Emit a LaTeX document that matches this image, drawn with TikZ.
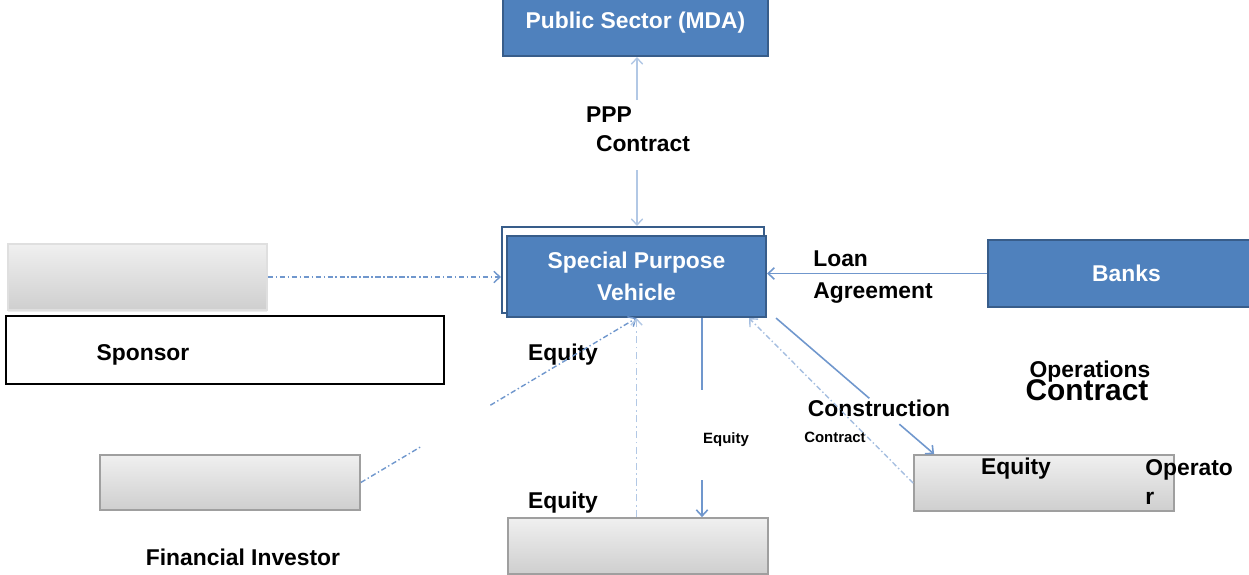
\documentclass[tikz,border=0pt]{standalone}
\usepackage{fontspec}
\setmainfont{Liberation Sans}
\usetikzlibrary{arrows.meta}
\usetikzlibrary{positioning}
\usetikzlibrary{calc}
\usetikzlibrary{shadows}
\definecolor{boxblue}{RGB}{79,129,189}
\definecolor{edgeblue}{RGB}{56,93,138}
\definecolor{linkblue}{RGB}{112,151,205}
\definecolor{paleblue}{RGB}{178,200,229}

\begin{document}
\begin{tikzpicture}[x=0.02cm,y=-0.02cm,>={Straight Barb[length=3.5pt,width=6.5pt]},
  every node/.style={font=\fontsize{13}{16}\selectfont\bfseries},
  bluebox/.style={draw=edgeblue,line width=1.2pt,fill=boxblue,text=white,minimum width=5.18cm,minimum height=1.62cm,inner sep=0pt,align=center},
  greybox/.style={draw=gray!75,line width=1pt,top color=gray!12,bottom color=gray!38,minimum width=5.2cm,minimum height=1.12cm,inner sep=0pt},
  lbl/.style={inner sep=0pt,align=left},
  small/.style={font=\fontsize{8.5}{10}\selectfont\bfseries,inner sep=0pt},
  solidlink/.style={draw=linkblue,line width=0.9pt},
  dotlink/.style={draw=linkblue,line width=0.8pt,dash pattern=on 3pt off 1.5pt on 0.8pt off 1.5pt},
  palelink/.style={draw=paleblue,line width=0.8pt}]
  \useasboundingbox (0,0) rectangle (1249,575);

  % boxes
  \node (pub) at (635.5,23) [bluebox,minimum width=5.3cm,minimum height=1.32cm]{Public Sector (MDA)};
  \node (spvframe) at (633,270) [draw=edgeblue,line width=1.2pt,minimum width=5.24cm,minimum height=1.72cm]{};
  \node (spv) at (636.5,276.5) [bluebox,font=\fontsize{13}{18}\selectfont\bfseries]{Special Purpose\\Vehicle};
  \node (banks) at (1126.5,273.5) [bluebox,minimum width=5.54cm,minimum height=1.34cm]{Banks};

  \node (spongrey) at (137.5,277) [greybox,draw=gray!25,minimum width=5.18cm,minimum height=1.32cm,
    drop shadow={opacity=0.15,shadow xshift=0pt,shadow yshift=-1pt}]{};
  \node (sponsor) at (225,350) [draw=black,line width=1.2pt,fill=white,minimum width=8.76cm,minimum height=1.36cm]{};
  \node (sponlbl) at (143,355) [lbl]{Sponsor};
  \node (fingrey) at (230,482.5) [greybox,minimum height=1.1cm]{};
  \node (finlbl) at (243,557) [lbl]{Financial Investor};
  \node (projgrey) at (638,546) [greybox]{};
  \node (opgrey) at (1044,483) [greybox]{};
  \node (opeq) at (1016,469) [lbl]{Equity};
  \node (oplbl) at (1145,482) [lbl,anchor=west]{Operato\\r};

  % labels
  \node (ppplbl) at (609,115) [lbl]{PPP};
  \node (pppcon) at (643,144) [lbl]{Contract};
  \node (loanlbl) at (813,277) [lbl,anchor=west,font=\fontsize{13}{18.7}\selectfont\bfseries]{Loan\\Agreement};
  \node (eqspon) at (563,355) [lbl]{Equity};
  \node (eqproj) at (563,503) [lbl]{Equity};
  \node (eqdown) at (726,440) [small]{Equity};
  \node (conlbl) at (879,408) [lbl]{Construction};
  \node (concon) at (835,437) [small]{Contract};
  \node (opslbl) at (1090,372) [lbl]{Operations};
  \node (opscon) at (1087,390) [lbl,font=\fontsize{17}{20}\selectfont\bfseries]{Contract};

  % connectors
  \coordinate (pppa) at (637,100);
  \coordinate (pppb) at (637,170);
  \draw[palelink,->] (pppa) -- (pppa |- pub.south);
  \draw[palelink,->] (pppb) -- (pppb |- spvframe.north);

  \draw[dotlink,->] (spongrey.east) -- (spongrey.east -| spvframe.west);

  \draw[dotlink] (fingrey.east) -- ($(fingrey.east)!0.22!(spv.south)$);
  \draw[dotlink,->] ($(fingrey.east)!0.47!(spv.south)$) -- (spv.south);

  \draw[palelink,dash pattern=on 4pt off 2pt on 1pt off 2pt,->] (spv.south |- projgrey.north) -- (spv.south);

  \coordinate (eqtop) at (702,390);
  \coordinate (eqbot) at (702,480);
  \draw[solidlink] (eqtop |- spv.south) -- (eqtop);
  \draw[solidlink,->] (eqbot) -- (eqbot |- projgrey.north);

  \draw[dotlink,draw=paleblue!80!linkblue,->] (opgrey.west) -- ([shift={(-18,0)}]spv.south east);

  \coordinate (cstart) at ([shift={(9,0)}]spv.south east);
  \coordinate (cend) at ([shift={(21,0)}]opgrey.north west);
  \draw[solidlink] (cstart) -- ($(cstart)!0.59!(cend)$);
  \draw[solidlink,->] ($(cstart)!0.78!(cend)$) -- (cend);

  \draw[solidlink,->] (banks.west) -- (banks.west -| spv.east);
\end{tikzpicture}
\end{document}
